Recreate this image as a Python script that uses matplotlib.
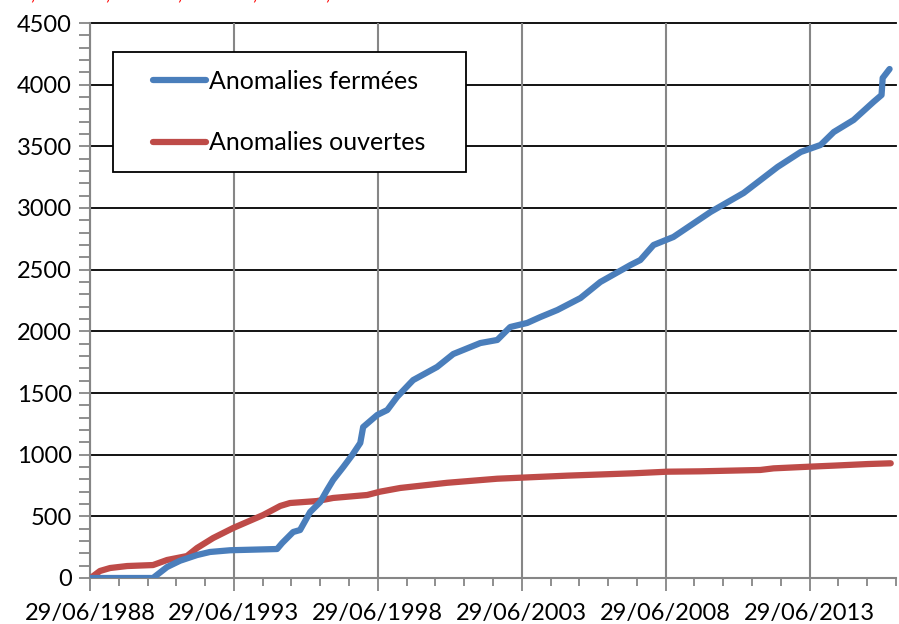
from datetime import datetime, timedelta
import matplotlib
matplotlib.use("Agg")
import matplotlib.pyplot as plt
import matplotlib.dates as mdates
from matplotlib.patches import Rectangle
from matplotlib.ticker import MultipleLocator, FixedLocator

# données (année décimale, nombre cumulé)
fermees_annee = [1988.49, 1990.68, 1991.17, 1991.62, 1992.21, 1992.66, 1993.36, 1994.99,
                 1995.17, 1995.55, 1995.79, 1996.14, 1996.49, 1996.73, 1996.94, 1997.29,
                 1997.60, 1997.88, 1997.98, 1998.47, 1998.82, 1999.16, 1999.62, 1999.72,
                 2000.55, 2001.11, 2002.05, 2002.64, 2003.09, 2003.68, 2004.14, 2004.73,
                 2005.53, 2006.22, 2007.27, 2007.61, 2008.07, 2008.76, 2010.05, 2011.20,
                 2012.38, 2013.18, 2013.87, 2014.33, 2015.02, 2015.71, 2015.99, 2016.03,
                 2016.27]
fermees = [0, 0, 89, 140, 186, 211, 225, 235,
           284, 373, 389, 535, 616, 714, 795, 900,
           997, 1095, 1224, 1322, 1362, 1468, 1581, 1605,
           1711, 1816, 1905, 1930, 2035, 2068, 2116, 2173,
           2270, 2400, 2538, 2578, 2700, 2765, 2968, 3122,
           3333, 3454, 3511, 3616, 3714, 3860, 3916, 4054,
           4127]

ouvertes_annee = [1988.49, 1988.56, 1988.84, 1989.19, 1989.78, 1990.68, 1991.17, 1991.86,
                  1992.21, 1992.77, 1993.46, 1994.51, 1995.10, 1995.44, 1996.38, 1996.94,
                  1998.12, 1998.57, 1999.27, 2000.90, 2002.64, 2005.08, 2007.37, 2008.55,
                  2009.70, 2011.78, 2012.24, 2013.52, 2014.32, 2015.51, 2016.31]
ouvertes = [0, 8, 57, 81, 97, 105, 146, 178,
            243, 324, 405, 511, 584, 608, 624, 649,
            673, 700, 730, 772, 805, 830, 849, 862,
            865, 876, 889, 903, 911, 924, 930]

annees_majeures = [1988, 1993, 1998, 2003, 2008, 2013]


def vers_date(a):
    an = int(a)
    return datetime(an, 1, 1) + timedelta(days=(a - an) * 365.25)


W, H = 899, 624
fig = plt.figure(figsize=(W / 100, H / 100), dpi=100)
ax = fig.add_axes([90 / W, 1 - 578 / H, 806 / W, 555 / H])

police = "Lato"
gris = "#868686"

ax.plot([vers_date(a) for a in fermees_annee], fermees, color="#4a7ebb", lw=4.5,
        solid_capstyle="round", solid_joinstyle="round", label="Anomalies fermées", zorder=4)
ax.plot([vers_date(a) for a in ouvertes_annee], ouvertes, color="#be4b48", lw=4.5,
        solid_capstyle="round", solid_joinstyle="round", label="Anomalies ouvertes", zorder=3)

ax.set_xlim(datetime(1988, 6, 29), datetime(2016, 6, 29))
ax.set_ylim(0, 4500)

ax.xaxis.set_major_locator(FixedLocator([mdates.date2num(datetime(a, 6, 29)) for a in annees_majeures]))
ax.xaxis.set_minor_locator(mdates.YearLocator(1, month=6, day=29))
ax.xaxis.set_major_formatter(mdates.DateFormatter("%d/%m/%Y"))
ax.yaxis.set_major_locator(MultipleLocator(500))
ax.yaxis.set_minor_locator(MultipleLocator(100))

# quadrillage : horizontales noires, verticales grises
for v in range(500, 4501, 500):
    ax.axhline(v, color="black", lw=1.3, zorder=1, clip_on=False)
ax.grid(axis="x", which="major", color=gris, lw=1.5, zorder=1)

for s in ["top", "right"]:
    ax.spines[s].set_visible(False)
for s in ["left", "bottom"]:
    ax.spines[s].set_color(gris)
    ax.spines[s].set_linewidth(1.5)

ax.tick_params(axis="y", which="both", direction="out", length=8, width=1.3, color=gris,
               labelsize=17, pad=5)
ax.tick_params(axis="x", which="major", direction="out", length=9, width=1.3, color=gris,
               labelsize=17, pad=9)
ax.tick_params(axis="x", which="minor", direction="out", length=6, width=1.3, color=gris)
for t in ax.get_xticklabels() + ax.get_yticklabels():
    t.set_fontfamily(police)

# cadre de la légende
cadre = Rectangle((113 / W, 1 - 172 / H), 353 / W, 120 / H, transform=fig.transFigure,
                  facecolor="white", edgecolor="black", lw=1.3, zorder=5, clip_on=False)
ax.add_patch(cadre)
leg = ax.legend(loc="center", bbox_to_anchor=(289.5 / W, 1 - 112 / H), bbox_transform=fig.transFigure,
                frameon=False, prop={"family": police, "size": 18}, handlelength=2.1,
                handletextpad=0.15, labelspacing=1.55)
leg.set_zorder(6)

# texte rouge coupé en haut
for x in [35, 110, 182, 257, 330]:
    fig.text(x / W, 1 - 2 / H, "/", color="red", fontsize=12, style="italic",
             family=police, ha="center", va="baseline")

fig.savefig("out.png", dpi=100)
